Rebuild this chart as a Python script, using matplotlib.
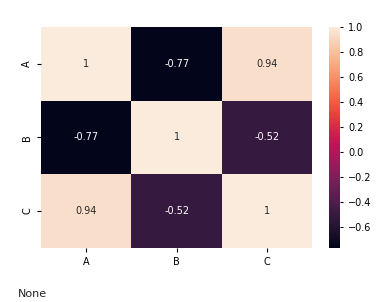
import numpy as np
import pandas as pd
import matplotlib
matplotlib.use("Agg")
import matplotlib.pyplot as plt
import seaborn as sns

labels = ["A", "B", "C"]
row_a = [1.0, -0.77, 0.94]
row_b = [-0.77, 1.0, -0.52]
row_c = [0.94, -0.52, 1.0]

corr = pd.DataFrame([row_a, row_b, row_c], index=labels, columns=labels)

fig = plt.figure(figsize=(3.77, 3.02), dpi=100)
ax = fig.add_axes([0.109, 0.179, 0.719, 0.732])
cax = fig.add_axes([0.873, 0.179, 0.029, 0.732])

sns.heatmap(corr, annot=True, ax=ax, cbar_ax=cax, annot_kws={"fontsize": 7})
ax.tick_params(labelsize=7, length=3, width=0.8)
cax.tick_params(labelsize=7, length=2.5, width=0.8)

fig.text(0.047, 0.018, "None", fontsize=8, color="#222222")

fig.savefig("out.png", dpi=100)
